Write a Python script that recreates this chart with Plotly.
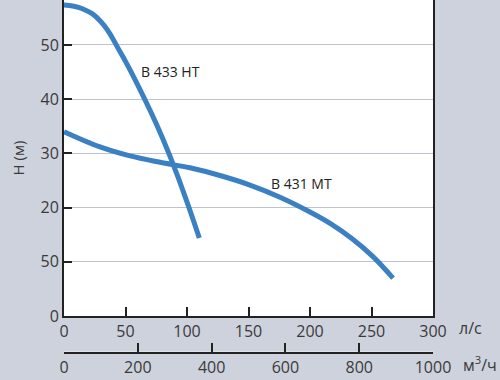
import plotly.graph_objects as go

# Data
q_ht = [0, 15, 30, 45, 60, 80, 95, 110]
h_ht = [57.4, 56.7, 54.3, 49.0, 42.6, 32.9, 24.2, 14.4]

q_mt = [0, 29.3, 53.7, 78, 102.4, 126.8, 151.2, 175.6, 200, 217, 234, 251, 267.5]
h_mt = [34.0, 31.19, 29.53, 28.36, 27.34, 25.92, 24.16, 21.92, 19.19, 17.0, 14.3, 11.0, 7.0]

y_tickvals = [0, 10, 20, 30, 40, 50]
y_ticktext = ["0", "50", "20", "30", "40", "50"]
x_tickvals = [0, 50, 100, 150, 200, 250, 300]
x2_tickvals = [0, 200, 400, 600, 800, 1000]

series_names = ["B 433 HT", "B 431 MT"]

LINE_COLOR = "#3b80c3"
AXIS_COLOR = "#222222"
TEXT_COLOR = "#3a3a3a"
FONT = "Open Sans"

fig = go.Figure()
fig.add_trace(go.Scatter(x=q_ht, y=h_ht, mode="lines", name=series_names[0],
                         line=dict(color=LINE_COLOR, width=5, shape="spline", smoothing=1.3),
                         showlegend=False, hoverinfo="skip"))
fig.add_trace(go.Scatter(x=q_mt, y=h_mt, mode="lines", name=series_names[1],
                         line=dict(color=LINE_COLOR, width=5, shape="spline"),
                         showlegend=False, hoverinfo="skip"))
# empty trace to carry the secondary (m3/h) axis
fig.add_trace(go.Scatter(x=[], y=[], xaxis="x2", yaxis="y2", showlegend=False,
                         hoverinfo="skip"))

H = 380
B = 16
paper_h = H - B
plot_bottom_px = 316
axis2_px = 352
ydom0 = (paper_h - plot_bottom_px) / paper_h
y2dom0 = (paper_h - axis2_px) / paper_h

tickfont = dict(family=FONT, size=16, color=TEXT_COLOR)

fig.update_layout(
    width=500, height=380,
    margin=dict(l=64, r=67, t=0, b=B, autoexpand=False),
    paper_bgcolor="#cdd2dc",
    plot_bgcolor="#ffffff",
    font=dict(family=FONT, color=TEXT_COLOR),
    xaxis=dict(range=[0, 300], tickvals=x_tickvals, ticks="inside", ticklen=9,
               tickwidth=1.5, tickcolor=AXIS_COLOR, showline=True, linewidth=2,
               linecolor=AXIS_COLOR, showgrid=False, zeroline=False,
               tickfont=tickfont, anchor="y", automargin=False),
    yaxis=dict(range=[0, 58.3], domain=[ydom0, 1], tickvals=y_tickvals,
               ticktext=y_ticktext, ticks="inside", ticklen=8, tickwidth=1.5,
               tickcolor=AXIS_COLOR, showline=True, linewidth=2,
               linecolor=AXIS_COLOR, mirror=True, showgrid=True,
               gridcolor="#bcc3cf", gridwidth=1, zeroline=False,
               tickfont=tickfont, automargin=False,
               title=dict(text="H (м)", font=dict(family=FONT, size=15, color=TEXT_COLOR),
                          standoff=12)),
    xaxis2=dict(range=[0, 1000], tickvals=x2_tickvals, ticks="inside", ticklen=9,
                tickwidth=1.5, tickcolor=AXIS_COLOR, showline=True, linewidth=2,
                linecolor=AXIS_COLOR, showgrid=False, zeroline=False,
                tickfont=tickfont, anchor="y2", side="bottom", automargin=False),
    yaxis2=dict(domain=[y2dom0, y2dom0 + 0.001], visible=False, range=[0, 1]),
    annotations=[
        dict(x=86.8, y=45.2, xref="x", yref="y", text=series_names[0], showarrow=False,
             font=dict(family=FONT, size=14, color="#222222")),
        dict(x=192.7, y=24.5, xref="x", yref="y", text=series_names[1], showarrow=False,
             font=dict(family=FONT, size=14, color="#222222")),
        dict(x=(470 - 64) / 369, y=(paper_h - 328) / paper_h, xref="paper", yref="paper",
             xanchor="center", yanchor="middle",
             text="л/с", showarrow=False, font=dict(family=FONT, size=16, color=TEXT_COLOR)),
        dict(x=(480 - 64) / 369, y=(paper_h - 364) / paper_h, xref="paper", yref="paper",
             xanchor="center", yanchor="middle",
             text="м<sup>3</sup>/ч", showarrow=False,
             font=dict(family=FONT, size=16, color=TEXT_COLOR)),
    ],
)

fig.write_html("out.html",
               config={"displayModeBar": False},
               post_script="document.body.style.margin='0';document.body.style.overflow='hidden';")
